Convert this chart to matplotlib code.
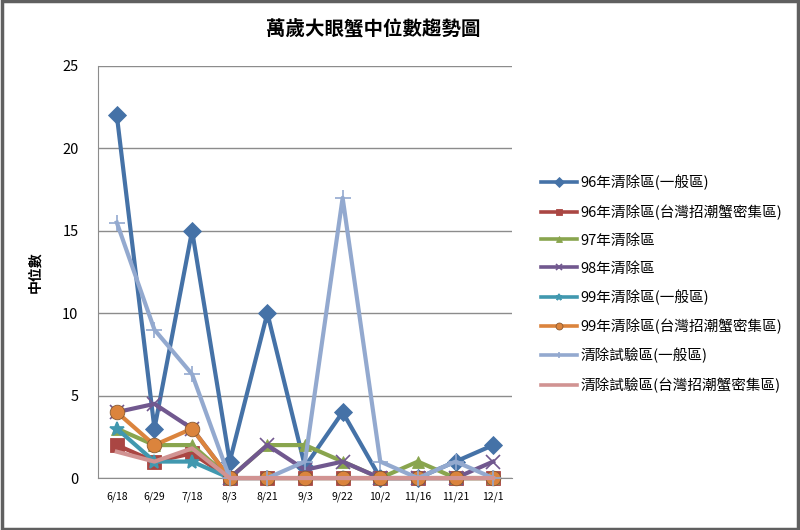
import numpy as np
import matplotlib.pyplot as plt
from matplotlib.patches import Rectangle

plt.rcParams['font.family'] = ['Noto Sans CJK TC', 'DejaVu Sans']

# category labels (sampling dates)
dates = ['6/18', '6/29', '7/18', '8/3', '8/21', '9/3', '9/22', '10/2', '11/16', '11/21', '12/1']

# median values per series
s96_general = [22, 3, 15, 1, 10, 0.7, 4, 0, 0, 1, 2]
s96_dense = [2, 1, 1.5, 0, 0, 0, 0, 0, 0, 0, 0]
s97 = [3, 2, 2, 0, 2, 2, 1, 0, 1, 0, 0]
s98 = [4, 4.5, 3, 0, 2, 0.5, 1, 0, 0, 0, 1]
s99_general = [3, 1, 1, 0, 0, 0, 0, 0, 0, 0, 0]
s99_dense = [4, 2, 3, 0, 0, 0, 0, 0, 0, 0, 0]
trial_general = [15.5, 9, 6.3, 0, 0, 1, 17, 1, 0, 1, 0]
trial_dense = [1.6, 1, 1.8, 0, 0, 0, 0, 0, 0, 0, 0]

names = ['96年清除區(一般區)', '96年清除區(台灣招潮蟹密集區)', '97年清除區', '98年清除區',
         '99年清除區(一般區)', '99年清除區(台灣招潮蟹密集區)', '清除試驗區(一般區)',
         '清除試驗區(台灣招潮蟹密集區)']
series = [s96_general, s96_dense, s97, s98, s99_general, s99_dense, trial_general, trial_dense]
colors = ['#4572A7', '#AA4643', '#89A54E', '#71588F', '#4198AF', '#DB843D', '#93A9CF', '#D19392']
markers = ['D', 's', '^', 'x', '*', 'o', '+', None]
msizes = [9, 9.5, 9, 10, 10, 10.5, 11, 0]

fig = plt.figure(figsize=(8, 5.3), dpi=100)
fig.patch.set_facecolor('white')
fig.add_artist(Rectangle((0.002, 0.002), 0.996, 0.996, transform=fig.transFigure,
                         fill=False, edgecolor='#606060', linewidth=2.5))

ax = fig.add_axes([0.1225, 0.098, 0.5175, 0.7775])
x = np.arange(len(dates))
for i in range(len(series)):
    thin = markers[i] in ('x', '+', '*')
    ax.plot(x, series[i], color=colors[i], marker=markers[i], markersize=msizes[i],
            linewidth=3, markeredgewidth=1.2 if thin else 0.6,
            markeredgecolor=colors[i] if thin or i != 5 else '#8a5a30',
            label=names[i], zorder=3 + i, clip_on=False)

ax.set_xlim(-0.5, len(dates) - 0.5)
ax.set_ylim(0, 25)
ax.set_yticks(range(0, 26, 5))
ax.set_xticks(x)
ax.set_xticklabels(dates, fontsize=7.5)
ax.tick_params(axis='y', labelsize=10.5, length=0, pad=14)
ax.tick_params(axis='x', length=0, pad=10)
ax.yaxis.grid(True, color='#8c8c8c', linewidth=1)
ax.set_axisbelow(True)
for side in ['top', 'right']:
    ax.spines[side].set_visible(False)
for side in ['left', 'bottom']:
    ax.spines[side].set_color('#8c8c8c')
ax.set_ylabel('中位數', fontsize=10, fontweight='bold', labelpad=14)

fig.text(0.467, 0.943, '萬歲大眼蟹中位數趨勢圖', fontsize=14, fontweight='bold',
         ha='center', va='center')

leg = ax.legend(loc='upper left', bbox_to_anchor=(1.055, 0.75), frameon=False,
                fontsize=10.5, labelspacing=0.95, handlelength=2.5, handletextpad=0.25,
                borderaxespad=0)
# smaller markers in the legend only
for h in leg.get_lines():
    h.set_markersize(5)
    h.set_linewidth(2.6)

fig.savefig('out.png', dpi=100)
